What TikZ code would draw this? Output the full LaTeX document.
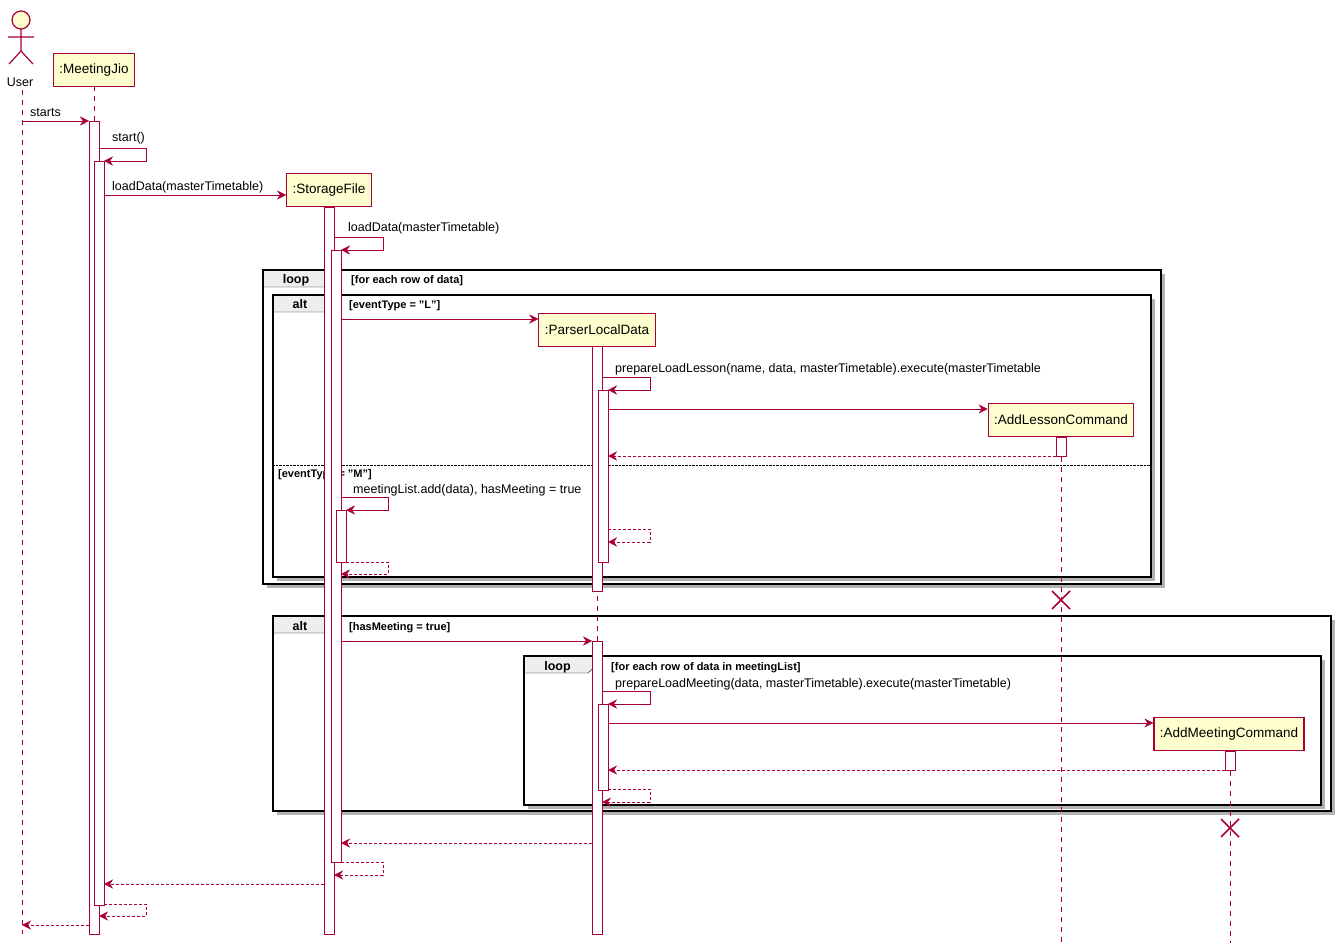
\documentclass[tikz,border=0pt]{standalone}
\usepackage{fontspec}
\setmainfont{Liberation Sans}
\usetikzlibrary{arrows.meta,calc}
\definecolor{umlred}{HTML}{A80036}
\definecolor{umlbox}{HTML}{FEFECE}
\definecolor{umltab}{HTML}{EEEEEE}
\tikzset{
  msg/.style={umlred,-{Stealth[length=9pt,width=9pt,inset=3pt]}},
  ret/.style={msg,densely dashed},
  life/.style={umlred,dashed,dash pattern=on 5pt off 5pt},
  partbox/.style={draw=umlred,fill=umlbox,line width=1.2pt,inner sep=6pt,minimum height=33pt,font=\fontsize{13.5}{15}\selectfont},
  actbar/.style={draw=umlred,fill=white},
  lbl/.style={anchor=base west,inner sep=0pt,font=\fontsize{12.5}{14}\selectfont},
  guard/.style={anchor=base west,inner sep=0pt,font=\bfseries\fontsize{11}{13}\selectfont},
  kill/.style={umlred,line width=1.5pt}
}
\newcommand{\umlframe}[6]{% x1,y1,x2,y2,tab width,label
  \fill[black!30] (#1+4,#2+4) rectangle (#3+4,#4+4);
  \fill[white] (#1,#2) rectangle (#3,#4);
  \draw[fill=umltab] (#1,#2) -- (#1+#5,#2) -- (#1+#5,#2+9) -- (#1+#5-9,#2+17) -- (#1,#2+17) -- cycle;
  \node[anchor=base,inner sep=0pt,font=\bfseries\fontsize{12.5}{14}\selectfont] at (#1+#5/2-3,#2+14) {#6};
  \draw[line width=1.5pt] (#1,#2) rectangle (#3,#4);
}
\begin{document}
\begin{tikzpicture}[x=1pt,y=-1pt]
    \useasboundingbox (0,0) rectangle (1344,949);
    % frames
    \umlframe{263}{270}{1161}{584}{72}{loop}
    \umlframe{273}{295}{1151}{577}{60}{alt}
    \umlframe{273}{616}{1331}{811}{60}{alt}
    \umlframe{524}{656}{1321}{805}{73}{loop}
    \node[guard] at (351,284) {[for each row of data]};
    \node[guard] at (349,309) {[eventType = "L"]};
    \draw[densely dotted] (273,465) -- (1151,465);
    \node[guard] at (278,477) {[eventType = "M"]};
    \node[guard] at (349,630) {[hasMeeting = true]};
    \node[guard] at (611,670) {[for each row of data in meetingList]};

    % lifelines
    \draw[life] (22,90) -- (22,934);
    \draw[life] (94,86) -- (94,934);
    \draw[life] (329,206) -- (329,934);
    \draw[life] (597,346) -- (597,934);
    \draw[life] (1061,437) -- (1061,943);
    \draw[life] (1230,751) -- (1230,943);

    % actor
    \begin{scope}[umlred,line width=1.2pt]
    \draw[fill=umlbox] (21,20) circle (9);
    \draw (21,29) -- (21,51) (8,37) -- (34,37) (21,51) -- (9,64) (21,51) -- (33,64);
    \end{scope}
    \node[lbl,anchor=base] (user) at (20,87) {User};

    % activation bars
    \draw[actbar] (89,121) rectangle (99,934);
    \draw[actbar] (94,161) rectangle (104,905);
    \draw[actbar] (324,207) rectangle (334,934);
    \draw[actbar] (331,250) rectangle (341,862);
    \draw[actbar] (336,510) rectangle (346,562);
    \draw[actbar] (592,346) rectangle (602,591);
    \draw[actbar] (598,390) rectangle (608,562);
    \draw[actbar] (592,641) rectangle (602,934);
    \draw[actbar] (598,704) rectangle (608,790);
    \draw[actbar] (1056,437) rectangle (1066,456);
    \draw[actbar] (1225,751) rectangle (1235,770);

    % participants
    \node[partbox] (jio) at (94,70) {:MeetingJio};
    \node[partbox] (storage) at (329,190) {:StorageFile};
    \node[partbox] (parser) at (597,330) {:ParserLocalData};
    \node[partbox] (lesson) at (1061,420) {:AddLessonCommand};
    \node[partbox] (meeting) at (1229,734) {:AddMeetingCommand};

    % messages
    \draw[msg] (22,121) -- (89,121);
    \node[lbl] at (30,117) {starts};
    \draw[msg] (99,148) -- (146,148) -- (146,161) -- (104,161);
    \node[lbl] at (112,142) {start()};
    \draw[msg] (104,195) -- (storage.west |- 0,195);
    \node[lbl] at (112,191) {loadData(masterTimetable)};
    \draw[msg] (334,237) -- (383,237) -- (383,250) -- (341,250);
    \node[lbl] at (348,232) {loadData(masterTimetable)};

    \draw[msg] (341,319) -- (parser.west |- 0,319);
    \draw[msg] (602,377) -- (650,377) -- (650,390) -- (608,390);
    \node[lbl] at (615,373) {prepareLoadLesson(name, data, masterTimetable).execute(masterTimetable};
    \draw[msg] (608,409) -- (lesson.west |- 0,409);
    \draw[ret] (1056,456) -- (608,456);
    \draw[msg] (341,497) -- (388,497) -- (388,510) -- (346,510);
    \node[lbl] at (353,493) {meetingList.add(data), hasMeeting = true};
    \draw[ret] (608,529) -- (650,529) -- (650,542) -- (608,542);
    \draw[ret] (346,562) -- (388,562) -- (388,574) -- (341,574);
    \draw[kill] (1052,591) -- (1070,609) (1070,591) -- (1052,609);

    \draw[msg] (341,641) -- (592,641);
    \draw[msg] (602,691) -- (650,691) -- (650,704) -- (608,704);
    \node[lbl] at (615,687) {prepareLoadMeeting(data, masterTimetable).execute(masterTimetable)};
    \draw[msg] (608,723) -- (meeting.west |- 0,723);
    \draw[ret] (1225,770) -- (608,770);
    \draw[ret] (608,789) -- (650,789) -- (650,802) -- (602,802);
    \draw[kill] (1221,819) -- (1239,837) (1239,819) -- (1221,837);

    \draw[ret] (592,843) -- (341,843);
    \draw[ret] (341,862) -- (383,862) -- (383,875) -- (334,875);
    \draw[ret] (324,884) -- (104,884);
    \draw[ret] (104,904) -- (146,904) -- (146,916) -- (99,916);
    \draw[ret] (89,925) -- (22,925);
\end{tikzpicture}
\end{document}
